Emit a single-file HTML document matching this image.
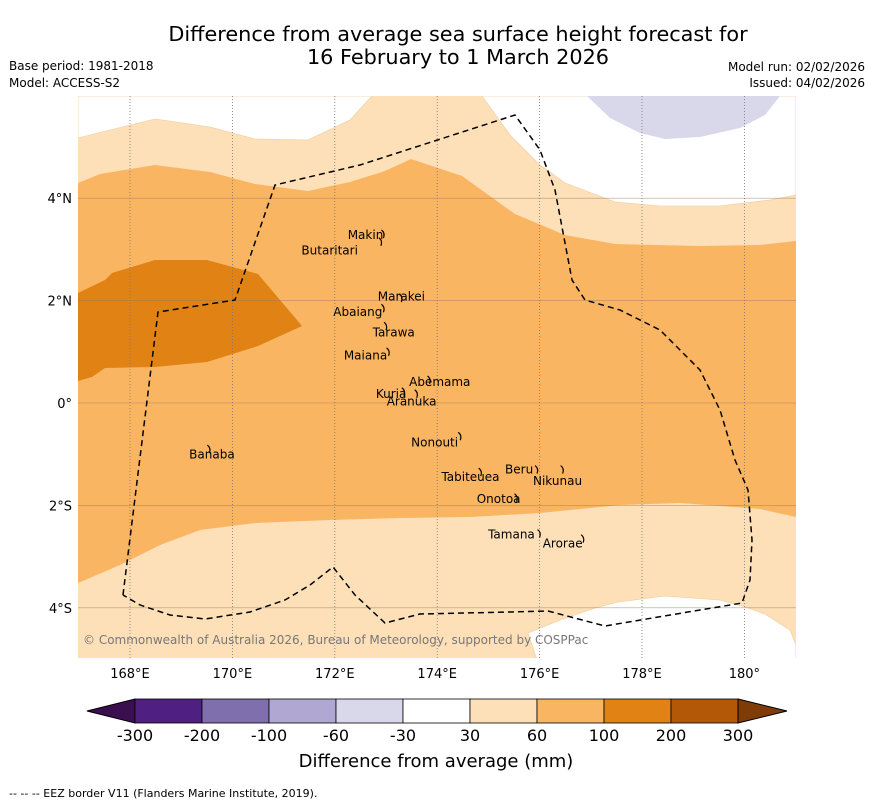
<!DOCTYPE html>
<html><head><meta charset="utf-8"><style>
body{margin:0;background:#fff;width:873px;height:804px;overflow:hidden;font-family:"Liberation Sans","DejaVu Sans",sans-serif}
svg text{font-family:"DejaVu Sans","Liberation Sans",sans-serif}
</style></head><body>
<svg id="chart" width="873" height="804" xmlns="http://www.w3.org/2000/svg">
<text x="458" y="41" font-size="20.8" text-anchor="middle">Difference from average sea surface height forecast for</text>
<text x="458" y="64" font-size="20.8" text-anchor="middle">16 February to 1 March 2026</text>
<text x="9" y="70" font-size="12">Base period: 1981-2018</text>
<text x="9" y="87" font-size="12">Model: ACCESS-S2</text>
<text x="865" y="71" font-size="12" text-anchor="end">Model run: 02/02/2026</text>
<text x="865" y="87" font-size="12" text-anchor="end">Issued: 04/02/2026</text>
<defs><clipPath id="mapclip"><rect x="78" y="96" width="718" height="562"/></clipPath></defs>
<g id="map" clip-path="url(#mapclip)"></g>
<g id="axes"></g>
<g id="cbar"></g>
<text x="436" y="767" font-size="18" text-anchor="middle">Difference from average (mm)</text>
<text x="9" y="797" font-size="11">--  --  -- EEZ border V11 (Flanders Marine Institute, 2019).</text>
</svg>
<script>
const lonTicks=[168,170,172,174,176,178,180];
const lonLabels=["168°E","170°E","172°E","174°E","176°E","178°E","180°"];
const latTicks=[4,2,0,-2,-4];
const latLabels=["4°N","2°N","0°","2°S","4°S"];
const cbarLevels=["-300","-200","-100","-60","-30","30","60","100","200","300"];
const cbarColors=["#4f1f82","#7f70ad","#b0a8d2","#d8d8ea","#ffffff","#fde0b8","#fab562","#e08214","#b35806"];
const islandNames=["Makin","Butaritari","Marakei","Abaiang","Tarawa","Maiana","Abemama","Kuria","Aranuka","Nonouti","Banaba","Beru","Nikunau","Tabiteuea","Onotoa","Tamana","Arorae"];
const islandLon=[172.6,171.9,173.3,172.45,173.15,172.6,174.05,173.1,173.5,173.95,169.6,175.6,176.35,174.65,175.2,175.45,176.45];
const islandLat=[3.2,2.9,2.0,1.7,1.3,0.85,0.33,0.1,-0.05,-0.85,-1.08,-1.38,-1.6,-1.52,-1.95,-2.65,-2.82];
const islandLonMark=[172.95,172.9,173.3,172.95,173.0,173.05,173.85,173.35,173.6,174.45,169.55,175.95,176.45,174.85,175.55,176.0,176.85];
const islandLatMark=[3.3,3.15,2.05,1.85,1.5,1.0,0.45,0.22,0.18,-0.65,-0.9,-1.3,-1.3,-1.35,-1.85,-2.55,-2.65];
const X=lon=>130+(lon-168)*51.2, Y=lat=>403-lat*51.2;
const NS="http://www.w3.org/2000/svg";
function mk(tag,attrs,parent){const e=document.createElementNS(NS,tag);for(const k in attrs)e.setAttribute(k,attrs[k]);parent.appendChild(e);return e;}
const map=document.getElementById('map');
let r=mk('rect',{x:78,y:96,width:718,height:562,fill:'#fde0b8'},map);


const polys=[
 ['contour-below-30-north','#ffffff',"78,96 78,138 155,119 210,127 255,139 308,140 350,120 372,96"],
 ['contour-below-30-northeast','#ffffff',"482,96 510,135 540,165 565,183 615,202 660,206 720,206 770,200 796,195 796,96"],
 ['contour-below-30-southeast','#ffffff',"537,660 528,633 560,620 595,608 618,602 665,596 720,600 745,607 765,614 790,630 796,645 796,660"],
 ['contour-minus-60-lavender','#d8d8ea',"587,96 610,118 640,133 665,139 700,137 740,128 765,115 780,96"],
 ['contour-60-100','#fab562',"78,183 100,174 155,165 210,172 255,184 308,191 350,182 385,171 411,159 462,176 515,214 565,235 615,244 700,246 760,245 796,241 796,517 760,509 680,503 620,505 540,513 470,517 400,518 330,520 255,523 200,530 160,545 120,565 78,583"],
 ['contour-100-200','#e08214',"78,293 105,280 112,273 155,260 207,260 258,274 302,326 258,346 207,362 155,367 105,368 92,377 78,381"]
];
polys.forEach(p=>{const e=mk('polygon',{points:p[2],fill:p[1],stroke:p[1]==='#ffffff'?'#f3d3a8':'none','stroke-width':0.8},map);

});
lonTicks.forEach(l=>{const e=mk('line',{x1:X(l),x2:X(l),y1:96,y2:658,stroke:'#777','stroke-width':0.8,'stroke-dasharray':'1,2'},map);

});
latTicks.forEach(l=>{const e=mk('line',{x1:78,x2:796,y1:Y(l),y2:Y(l),stroke:'#9a7a5a','stroke-width':0.6,'stroke-opacity':0.7},map);

});
let eez=mk('polyline',{points:"123,595 158,312 235,300 275,185 360,165 515,115 540,150 555,190 572,280 585,300 620,310 660,330 700,370 720,410 735,460 748,490 752,540 750,580 742,603 700,610 605,626 548,611 510,612 420,614 385,623 355,595 333,567 310,585 285,600 250,612 205,619 170,615 140,605 123,595",fill:'none',stroke:'#000','stroke-width':1.5,'stroke-dasharray':'6,4'},map);


islandNames.forEach((n,i)=>{
 const m=mk('path',{d:`M${X(islandLonMark[i])-2},${Y(islandLatMark[i])-4} q4,3 2,8`,fill:'none',stroke:'#000','stroke-width':1.2},map);
 
 
 const t=mk('text',{x:X(islandLon[i]),y:Y(islandLat[i]),'font-size':12,'text-anchor':'middle',fill:'#000'},map);
 t.textContent=n;
 
 
});
let cp=mk('text',{x:83,y:644,'font-size':12,fill:'#777'},map);cp.textContent="© Commonwealth of Australia 2026, Bureau of Meteorology, supported by COSPPac";


const axes=document.getElementById('axes');
lonTicks.forEach((l,i)=>{const t=mk('text',{x:X(l),y:678,'font-size':13,'text-anchor':'middle'},axes);t.textContent=lonLabels[i];

});
latTicks.forEach((l,i)=>{const t=mk('text',{x:72,y:Y(l)+5,'font-size':13,'text-anchor':'end'},axes);t.textContent=latLabels[i];

});
const cb=document.getElementById('cbar');
const x0=135,w=67.0,y0=699,h=24;
let lt=mk('polygon',{points:`87,711 ${x0},${y0} ${x0},${y0+h}`,fill:'#3b0f4f',stroke:'#000','stroke-width':1},cb);


cbarColors.forEach((c,i)=>{const e=mk('rect',{x:x0+i*w,y:y0,width:w,height:h,fill:c,stroke:'#000','stroke-width':0.8},cb);

});
const xe=x0+cbarColors.length*w;
let rt=mk('polygon',{points:`${xe},${y0} 787,711 ${xe},${y0+h}`,fill:'#7f3b08',stroke:'#000','stroke-width':1},cb);


cbarLevels.forEach((v,i)=>{const t=mk('text',{x:x0+i*w,y:741,'font-size':16,'text-anchor':'middle'},cb);t.textContent=v;

});
</script>
</body></html>
